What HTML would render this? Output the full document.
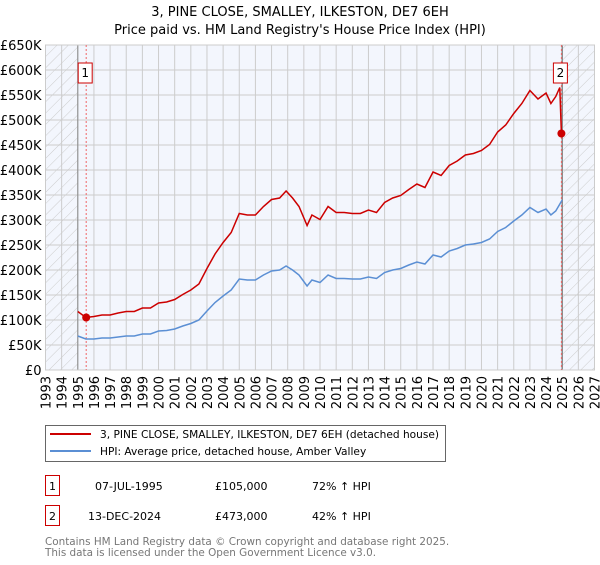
<!DOCTYPE html>
<html><head><meta charset="utf-8"><style>
body{margin:0;background:#fff;}
svg text{font-family:"DejaVu Sans","Liberation Sans",sans-serif;}
</style></head><body>
<svg id="c" width="600" height="560" xmlns="http://www.w3.org/2000/svg">
<defs>
<pattern id="hatch" width="8" height="8" patternUnits="userSpaceOnUse" patternTransform="rotate(45)">
<line x1="0" y1="0" x2="0" y2="8" stroke="#ccc" stroke-width="1"/></pattern>
</defs>
<text x="300" y="16" text-anchor="middle" font-size="13">3, PINE CLOSE, SMALLEY, ILKESTON, DE7 6EH</text>
<text x="300" y="34" text-anchor="middle" font-size="13">Price paid vs. HM Land Registry's House Price Index (HPI)</text>
<g id="plot"></g>
<g id="legend">
<rect x="45.5" y="425.5" width="400" height="36" fill="#fff" stroke="#666"/>
<line x1="50" y1="434" x2="91" y2="434" stroke="#cc0000" stroke-width="2"/>
<text x="100" y="438" font-size="10.6">3, PINE CLOSE, SMALLEY, ILKESTON, DE7 6EH (detached house)</text>
<line x1="50" y1="451" x2="91" y2="451" stroke="#5b8fd4" stroke-width="2"/>
<text x="100" y="455" font-size="10.6">HPI: Average price, detached house, Amber Valley</text>
</g>
<g font-size="11">
<rect x="45.5" y="475.5" width="14" height="20" fill="#fff" stroke="#cc0000"/>
<text x="52.5" y="490" text-anchor="middle">1</text>
<text x="95" y="490">07-JUL-1995</text><text x="215" y="490">£105,000</text><text x="312" y="490">72% ↑ HPI</text>
<rect x="45.5" y="505.5" width="14" height="20" fill="#fff" stroke="#cc0000"/>
<text x="52.5" y="520" text-anchor="middle">2</text>
<text x="88" y="520">13-DEC-2024</text><text x="215" y="520">£473,000</text><text x="312" y="520">42% ↑ HPI</text>
</g>
<text x="45" y="545" font-size="10.4" fill="#777">Contains HM Land Registry data © Crown copyright and database right 2025.</text>
<text x="45" y="556" font-size="10.4" fill="#777">This data is licensed under the Open Government Licence v3.0.</text>
</svg>
<script>
const dates=[1995.0,1995.5,1996,1996.5,1997,1997.5,1998,1998.5,1999,1999.5,2000,2000.5,2001,2001.5,2002,2002.5,2003,2003.5,2004,2004.5,2005,2005.5,2006,2006.5,2007,2007.5,2007.9,2008.3,2008.7,2009.2,2009.5,2010,2010.5,2011,2011.5,2012,2012.5,2013,2013.5,2014,2014.5,2015,2015.5,2016,2016.5,2017,2017.5,2018,2018.5,2019,2019.5,2020,2020.5,2021,2021.5,2022,2022.5,2023,2023.5,2024,2024.3,2024.6,2025];
const hpiValues=[68,62,62,64,64,66,68,68,72,72,78,79,82,88,93,100,118,135,148,160,182,180,180,190,198,200,208,200,190,168,180,175,190,183,183,182,182,186,183,195,200,203,210,216,212,230,226,238,243,250,252,255,262,277,285,298,310,325,315,322,310,318,340];
const redDates=[1995.0,1995.5,1996,1996.5,1997,1997.5,1998,1998.5,1999,1999.5,2000,2000.5,2001,2001.5,2002,2002.5,2003,2003.5,2004,2004.5,2005,2005.5,2006,2006.5,2007,2007.5,2007.9,2008.3,2008.7,2009.2,2009.5,2010,2010.5,2011,2011.5,2012,2012.5,2013,2013.5,2014,2014.5,2015,2015.5,2016,2016.5,2017,2017.5,2018,2018.5,2019,2019.5,2020,2020.5,2021,2021.5,2022,2022.5,2023,2023.5,2024,2024.3,2024.6,2024.85,2024.95,2025.05];
const redValues=[117,105,107,110,110,114,117,117,124,124,134,136,141,151,160,172,203,232,255,275,313,310,310,327,341,344,358,344,327,289,310,301,327,315,315,313,313,320,315,335,344,349,361,372,365,396,389,409,418,430,433,439,451,476,490,513,533,559,542,554,533,547,565,473,475];
const sales=[{d:1995.52,v:105,label:"1"},{d:2024.95,v:473,label:"2"}];
const yTicks=[0,50,100,150,200,250,300,350,400,450,500,550,600,650];
const xTicks=[1993,1994,1995,1996,1997,1998,1999,2000,2001,2002,2003,2004,2005,2006,2007,2008,2009,2010,2011,2012,2013,2014,2015,2016,2017,2018,2019,2020,2021,2022,2023,2024,2025,2026,2027];
const X0=45.5,X1=594.5,Y0=370,Y1=45;
const x=d=>X0+(d-1993)/(2027-1993)*(X1-X0);
const y=v=>Y0-v/650*(Y0-Y1);
const NS="http://www.w3.org/2000/svg";
const g=document.getElementById('plot');
function mk(t,a,p){const e=document.createElementNS(NS,t);for(const k in a)e.setAttribute(k,a[k]);(p||g).appendChild(e);return e;}
const bg=mk('rect',{x:X0,y:Y1,width:X1-X0,height:Y0-Y1,fill:'#f3f6fd'});


const h1=mk('rect',{x:X0,y:Y1,width:x(1995)-X0,height:Y0-Y1,fill:'url(#hatch)'});


const h2=mk('rect',{x:x(2025),y:Y1,width:X1-x(2025),height:Y0-Y1,fill:'url(#hatch)'});


yTicks.forEach(v=>{
 const l=mk('line',{x1:X0,x2:X1,y1:y(v),y2:y(v),stroke:'#ccc','stroke-width':1});
 
 
 const t=mk('text',{x:X0-4,y:y(v)+5,'text-anchor':'end','font-size':13});
 
 
 t.textContent=v===0?'£0':'£'+v+'K';
});
xTicks.forEach(d=>{
 const l=mk('line',{x1:x(d),x2:x(d),y1:Y1,y2:Y0,stroke:'#ccc','stroke-width':1});
 
 
 const t=mk('text',{x:0,y:0,'text-anchor':'end','font-size':13,transform:`translate(${x(d)+5},${Y0+6}) rotate(-90)`});
 
 
 t.textContent=d;
});
const v1=mk('line',{x1:x(1995),x2:x(1995),y1:Y1,y2:Y0,stroke:'#888','stroke-width':1});


const v2=mk('line',{x1:x(2025),x2:x(2025),y1:Y1,y2:Y0,stroke:'#888','stroke-width':1.5});


const fr=mk('rect',{x:X0,y:Y1,width:X1-X0,height:Y0-Y1,fill:'none',stroke:'#ccc'});


sales.forEach(s=>{
 const l=mk('line',{x1:x(s.d),x2:x(s.d),y1:Y1,y2:Y0,stroke:'#e66','stroke-width':1,'stroke-dasharray':'2,2'});
 
 
});
const hp=mk('polyline',{points:dates.map((d,i)=>x(d)+','+y(hpiValues[i])).join(' '),fill:'none',stroke:'#5b8fd4','stroke-width':1.5});


const rp=mk('polyline',{points:redDates.map((d,i)=>x(d)+','+y(redValues[i])).join(' '),fill:'none',stroke:'#cc0000','stroke-width':1.5});


sales.forEach(s=>{
 const c=mk('circle',{cx:x(s.d),cy:y(s.v),r:4,fill:'#cc0000'});
 
 
 const b=mk('rect',{x:x(s.d)-8,y:63,width:14,height:20,fill:'#fff',stroke:'#cc0000'});
 
 
 const t=mk('text',{x:x(s.d)-1,y:77,'text-anchor':'middle','font-size':12});
 
 
 t.textContent=s.label;
});
</script>
</body></html>
